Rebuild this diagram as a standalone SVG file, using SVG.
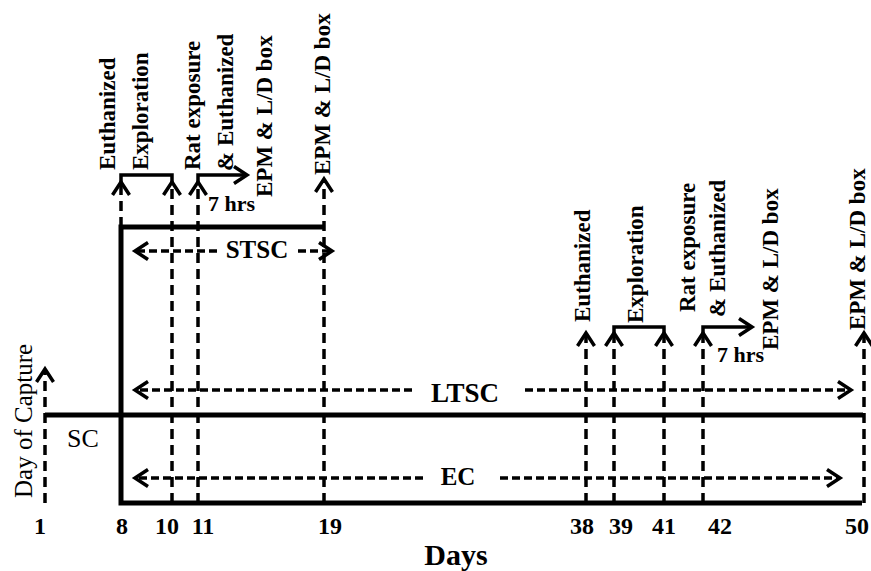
<svg xmlns="http://www.w3.org/2000/svg" width="871" height="571" viewBox="0 0 871 571">
<style>
.solid{fill:none;stroke:#000;stroke-width:5;stroke-linecap:butt;stroke-linejoin:miter}
.brk{fill:none;stroke:#000;stroke-width:3.5;stroke-linejoin:miter}
.vd{fill:none;stroke:#000;stroke-width:3.5;stroke-dasharray:10 6}
.hd{fill:none;stroke:#000;stroke-width:3.5;stroke-dasharray:8 4}
.t{font-family:"Liberation Serif","Times New Roman",serif;font-weight:bold;fill:#000}
.r{font-family:"Liberation Serif","Times New Roman",serif;font-weight:normal;fill:#000}
.lab{font-size:23px}
.num{font-size:24px;text-anchor:middle}
</style>
<defs>
<marker id="ah" markerUnits="userSpaceOnUse" viewBox="-16 -11 20 22" markerWidth="20" markerHeight="22" refX="0" refY="0" orient="auto" overflow="visible">
<path d="M-13,-8.5 L0,0 L-13,8.5" fill="none" stroke="#000" stroke-width="3.5" stroke-dasharray="none" stroke-linejoin="miter"/>
</marker>
</defs>
<rect width="871" height="571" fill="#fff"/>
<g id="connectors">
<path class="solid" d="M324,227 H121 V503 H862"/>
<path class="solid" d="M45,415 H863"/>
<path class="vd" d="M45,503 V369" marker-end="url(#ah)"/>
<path class="vd" d="M121,227 V182" marker-end="url(#ah)"/>
<path class="vd" d="M172,503 V182" marker-end="url(#ah)"/>
<path class="vd" d="M198,503 V182" marker-end="url(#ah)"/>
<path class="vd" d="M324,503 V179" marker-end="url(#ah)"/>
<path class="vd" d="M586,503 V333" marker-end="url(#ah)"/>
<path class="vd" d="M614,503 V333" marker-end="url(#ah)"/>
<path class="vd" d="M664,503 V333" marker-end="url(#ah)"/>
<path class="vd" d="M703,503 V333" marker-end="url(#ah)"/>
<path class="vd" d="M864,503 V333" marker-end="url(#ah)"/>
<path class="brk" d="M121,182 V175 H172 V182"/>
<path class="brk" d="M198,182 V175 H247" marker-end="url(#ah)"/>
<path class="brk" d="M614,333 V327 H664 V333"/>
<path class="brk" d="M703,333 V327 H752" marker-end="url(#ah)"/>
<path class="hd" d="M217,251 H135" marker-end="url(#ah)"/>
<path class="hd" d="M298,251 H332" marker-end="url(#ah)"/>
<path class="hd" d="M412,390 H135" marker-end="url(#ah)"/>
<path class="hd" d="M525,390 H851" marker-end="url(#ah)"/>
<path class="hd" d="M423,478 H135" marker-end="url(#ah)"/>
<path class="hd" d="M500,478 H840" marker-end="url(#ah)"/>
</g>
<g id="stsc"><text class="t" x="257" y="258" font-size="25" text-anchor="middle">STSC</text></g>
<g id="ltsc"><text class="t" x="465" y="402" font-size="27" text-anchor="middle">LTSC</text></g>
<g id="ec"><text class="t" x="458" y="485" font-size="25" text-anchor="middle">EC</text></g>
<g id="sc"><text class="r" x="67" y="447" font-size="26">SC</text></g>
<g id="capture"><text class="r" transform="translate(32,498) rotate(-90)" font-size="25">Day of Capture</text></g>
<g id="group-short">
<text class="t lab" transform="translate(115,170) rotate(-90)">Euthanized</text>
<text class="t lab" transform="translate(148,170) rotate(-90)">Exploration</text>
<text class="t lab" transform="translate(200,170) rotate(-90)">Rat exposure</text>
<text class="t lab" transform="translate(233,171) rotate(-90)">&amp; Euthanized</text>
<text class="t lab" transform="translate(272,197) rotate(-90)">EPM &amp; L/D box</text>
<text class="t lab" transform="translate(330,175) rotate(-90)">EPM &amp; L/D box</text>
<text class="t" x="208" y="211" font-size="22">7 hrs</text>
</g>
<g id="group-long">
<text class="t lab" transform="translate(590,322) rotate(-90)">Euthanized</text>
<text class="t lab" transform="translate(643,323) rotate(-90)">Exploration</text>
<text class="t lab" transform="translate(695,312) rotate(-90)">Rat exposure</text>
<text class="t lab" transform="translate(725,317) rotate(-90)">&amp; Euthanized</text>
<text class="t lab" transform="translate(778,350) rotate(-90)">EPM &amp; L/D box</text>
<text class="t lab" transform="translate(865,330) rotate(-90)">EPM &amp; L/D box</text>
<text class="t" x="717" y="362" font-size="22">7 hrs</text>
</g>
<g id="axis">
<text class="t num" x="40" y="534">1</text>
<text class="t num" x="122" y="534">8</text>
<text class="t num" x="167" y="534">10</text>
<text class="t num" x="203" y="534">11</text>
<text class="t num" x="330" y="534">19</text>
<text class="t num" x="582" y="534">38</text>
<text class="t num" x="621" y="534">39</text>
<text class="t num" x="664" y="534">41</text>
<text class="t num" x="720" y="534">42</text>
<text class="t num" x="857" y="534">50</text>
<text class="t" x="456" y="565" font-size="30" text-anchor="middle">Days</text>
</g>
</svg>
